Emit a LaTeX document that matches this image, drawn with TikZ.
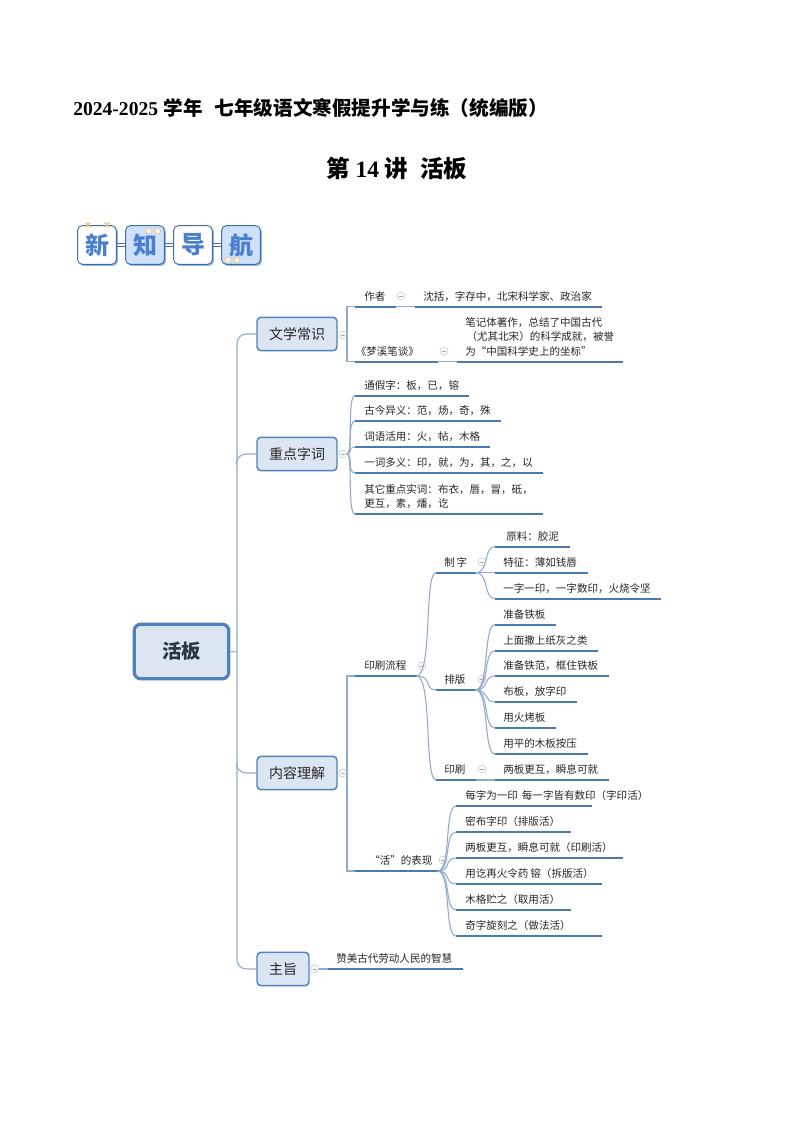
\documentclass[tikz,border=0pt]{standalone}
\usepackage{fontspec}
\setmainfont{Noto Sans CJK SC}
\newfontfamily\digitfont{Liberation Serif}
\usetikzlibrary{calc}
\definecolor{ulinecol}{HTML}{4A7AB0}
\definecolor{conncol}{HTML}{8FACCF}
\definecolor{boxfill}{HTML}{DCE6F2}
\definecolor{boxedge}{HTML}{4F81BD}
\definecolor{txt}{HTML}{262626}
\definecolor{badgeedge}{HTML}{3F6EA8}
\definecolor{badgeshade}{HTML}{8FB4E3}
\definecolor{badgefill}{HTML}{CFE0FA}
\definecolor{badgetext}{HTML}{4A7FD0}
\definecolor{cream}{HTML}{FBF3DC}
\definecolor{tan}{HTML}{D9BE86}
\definecolor{goldx}{HTML}{E8B860}
\tikzset{
  x=0.75pt,y=-0.75pt,
  uline/.style={draw=ulinecol,line width=1.3pt},
  conn/.style={draw=conncol,line width=0.8pt},
  mainbox/.style={draw=boxedge,fill=boxfill,line width=1.1pt,rounded corners=3pt,
    minimum height=25pt,inner sep=0pt,font=\fontsize{10.5}{12}\selectfont,text=txt},
  rootbox/.style={draw=boxedge,fill=boxfill,line width=2.4pt,rounded corners=5pt,
    minimum width=71pt,minimum height=41pt,inner sep=0pt,font=\fontsize{14.5}{16}\selectfont\bfseries,text=txt!80!boxedge},
  leaf/.style={inner sep=0pt,text depth=4.7pt,anchor=south west,font=\fontsize{7.9}{10.8}\selectfont,text=txt},
  minusc/.style={circle,draw=gray!40,fill=white,line width=0.5pt,minimum size=6pt,inner sep=0pt,
    path picture={\draw[gray!70,line width=0.4pt] ($(path picture bounding box.center)+(-1.6pt,0)$) -- ($(path picture bounding box.center)+(1.6pt,0)$);}},
  badge/.style={draw=badgeedge,line width=0.7pt,rounded corners=3.5pt,minimum size=29pt,inner sep=0pt,
    font=\fontsize{18}{20}\selectfont\bfseries,text=badgetext},
  badgeshadow/.style={fill=badgeshade,rounded corners=3.5pt,minimum size=29pt,inner sep=0pt},
  bead/.style={circle,draw=tan,fill=cream,line width=0.4pt,minimum size=4.6pt,inner sep=0pt},
  titleA/.style={inner sep=0pt,anchor=base west,font=\fontsize{14.7}{16}\selectfont\bfseries,text=black},
  titleB/.style={inner sep=0pt,anchor=base west,font=\fontsize{17.6}{20}\selectfont\bfseries,text=black},
}
% name, x1, x2, y, text x, text
\newcommand\leafnode[6]{%
  \pgfmathsetlengthmacro\lfw{(#3-#2)*0.75pt}%
  \pgfmathsetlengthmacro\lfo{(#5-#2)*0.75pt}%
  \node[leaf] (#1) at (#2,#4) {\makebox[\lfw][l]{\hspace*{\lfo}#6}};
  \draw[uline] (#1.south west) -- (#1.south east);
}
\begin{document}
\begin{tikzpicture}
\useasboundingbox (0,0) rectangle (794,1123);
\fill[white] (0,0) rectangle (794,1123);

% titles
\node[titleA] (t1) at (73,115.5) {{\digitfont 2024-2025}\hspace{4pt}学年\hspace{9pt}七年级语文寒假提升学与练（统编版）};
\node[titleB] (t2) at (326,178) {第{\digitfont\ 14 }讲\hspace{9pt}活板};

% badges
\foreach \nm/\cx/\fc/\tx in {bA/97/white/新,bB/145/badgefill/知,bC/193/white/导,bD/241/badgefill/航}{
  \node[badgeshadow] at (\cx+1.5,246.5) {};
  \node[badge,fill=\fc] (\nm) at (\cx,245) {\tx};
}
\foreach \a/\b in {bA/bB,bB/bC,bC/bD}{
  \draw[badgeedge,line width=0.5pt] ($(\a.east)+(0,-1.2pt)$) -- ($(\b.west)+(0,-1.2pt)$);
  \draw[badgeedge,line width=0.5pt] ($(\a.east)+(0,1.2pt)$) -- ($(\b.west)+(0,1.2pt)$);
}
\foreach \px in {88,107}{
  \draw[goldx,line width=0.7pt] (\px-2.5,222.5) -- (\px+2.5,227);
  \draw[goldx,line width=0.7pt] (\px-2.5,227) -- (\px+2.5,222.5);
}
\node[bead] (bead1) at (149,231) {};
\node[bead] (bead2) at (157.6,231) {};
\node[bead] (bead3) at (228,260) {};
\node[bead] (bead4) at (237,260) {};

% root and main boxes
\node[rootbox] (root) at (181.5,651.5) {活板};
\node[mainbox,minimum width=60pt] (wx) at (297,334) {文学常识};
\node[mainbox,minimum width=60pt] (zd) at (297,454) {重点字词};
\node[mainbox,minimum width=60pt] (nr) at (297,773) {内容理解};
\node[mainbox,minimum width=39pt] (zz) at (283,969) {主旨};
\coordinate (trunk) at (237,652);
\draw[conn] (root.east) -- (trunk);
\draw[conn,rounded corners=7pt] (wx.west) -| (trunk) |- (zz.west);
\draw[conn] (zd.west) -- ++(-10,0) to[out=180,in=90] ++(-10,10);
\draw[conn] (nr.west) -- ++(-10,0) to[out=180,in=-90] ++(-10,-10);

% minus signs for the main boxes
\node[minusc] (mwx) at (342.7,335) {};
\node[minusc] (mzd) at (342.7,454) {};
\node[minusc] (mnr) at (342.7,773) {};
\node[minusc] (mzz) at (314.7,969) {};

% 文学常识
\leafnode{zuo}{355}{395}{306.7}{364}{作者}
\leafnode{shen}{415}{601.7}{306.7}{423}{沈括，字存中，北宋科学家、政治家}
\node[minusc] (mzuo) at (401,296) {};
\draw[conn] (zuo.south east) -- (shen.south west);
\leafnode{meng}{355}{437}{361.7}{355.5}{《梦溪笔谈》}
\leafnode{biji}{457}{622}{361.7}{465}{\parbox[b]{160pt}{笔记体著作，总结了中国古代\\\hspace*{1pt}（尤其北宋）的科学成就，被誉\\为“中国科学史上的坐标”}}
\node[minusc] (mmeng) at (444,351) {};
\draw[conn] (meng.south east) -- (biji.south west);
\draw[conn] (zuo.south west) -- ++(-8,0) -- ($(meng.south west)+(-8,0)$) -- (meng.south west);
\draw[conn] (mwx.east) -- (347.3,335);

% 重点字词
\leafnode{tj}{355}{468.7}{395.7}{364}{通假字：板，已，镕}
\leafnode{gj}{355}{500}{421}{364}{古今异义：范，炀，奇，殊}
\leafnode{ch}{355}{489}{447}{364}{词语活用：火，帖，木格}
\leafnode{yc}{355}{542}{473}{364}{一词多义：印，就，为，其，之，以}
\leafnode{qt}{355}{542}{514}{364}{\parbox[b]{170pt}{其它重点实词：布衣，唇，冒，砥，\\更互，素，燔，讫}}
\foreach \l in {tj,gj,ch,yc,qt}{\draw[conn] (mzd.east) .. controls +(6,0) and +(-8,0) .. (\l.south west);}

% 内容理解
\leafnode{ys}{355}{416}{676}{364}{印刷流程}
\leafnode{hq}{355}{437}{871}{369}{“活”的表现}
\node[minusc] (mys) at (422,666) {};
\node[minusc] (mhq) at (443,860) {};
\draw[conn] (ys.south west) -- ++(-8,0) -- ($(hq.south west)+(-8,0)$) -- (hq.south west);
\draw[conn] (mnr.east) -- (347.3,773);

% 印刷流程
\leafnode{zhz}{436}{475}{572.7}{444}{制\,字}
\leafnode{pb}{436}{475}{690}{444}{排版}
\leafnode{yin}{436}{475}{780}{444}{印刷}
\node[minusc] (mzhz) at (482,562) {};
\node[minusc] (mpb) at (482,679) {};
\node[minusc] (myin) at (482,769) {};
\foreach \l in {zhz,pb,yin}{\draw[conn] (ys.south east) .. controls +(16,0) and +(-12,0) .. (\l.south west);}

% 制字
\leafnode{yl}{495}{569}{546.7}{506}{原料：胶泥}
\leafnode{tz}{495}{587}{572.7}{503}{特征：薄如钱唇}
\leafnode{yz}{495}{660.7}{598.7}{503}{一字一印，一字数印，火烧令坚}
\foreach \l in {yl,tz,yz}{\draw[conn] (zhz.south east) .. controls +(14,0) and +(-12,0) .. (\l.south west);}

% 排版
\leafnode{pa}{495}{555}{624.7}{503}{准备铁板}
\leafnode{pc}{495}{597.7}{650.7}{503}{上面撒上纸灰之类}
\leafnode{pd}{495}{608}{676}{503}{准备铁范，框住铁板}
\leafnode{pe}{495}{576}{702}{503}{布板，放字印}
\leafnode{pf}{495}{555}{728}{503}{用火烤板}
\leafnode{pg}{495}{587}{754}{503}{用平的木板按压}
\foreach \l in {pa,pc,pd,pe,pf,pg}{\draw[conn] (pb.south east) .. controls +(14,0) and +(-12,0) .. (\l.south west);}

% 印刷
\leafnode{lb}{495}{608}{780}{503}{两板更互，瞬息可就}
\draw[conn] (yin.south east) -- (lb.south west);

% “活”的表现
\leafnode{ha}{456}{591}{806}{465}{每字为一印\hspace{3pt}每一字皆有数印（字印活）}
\leafnode{hb}{456}{570}{832}{465}{密布字印（排版活）}
\leafnode{hc}{456}{622.7}{858}{465}{两板更互，瞬息可就（印刷活）}
\leafnode{hd}{456}{601.7}{884}{465}{用讫再火令药\hspace{1.5pt}镕（拆版活）}
\leafnode{he}{456}{570}{910}{465}{木格贮之（取用活）}
\leafnode{hf}{456}{601.7}{936}{465}{奇字旋刻之（做法活）}
\foreach \l in {ha,hb,hc,hd,he,hf}{\draw[conn] (hq.south east) .. controls +(14,0) and +(-12,0) .. (\l.south west);}

% 主旨
\leafnode{zs}{328}{462}{969}{336}{赞美古代劳动人民的智慧}
\draw[conn] (mzz.east) -- (zs.south west);
\end{tikzpicture}
\end{document}
